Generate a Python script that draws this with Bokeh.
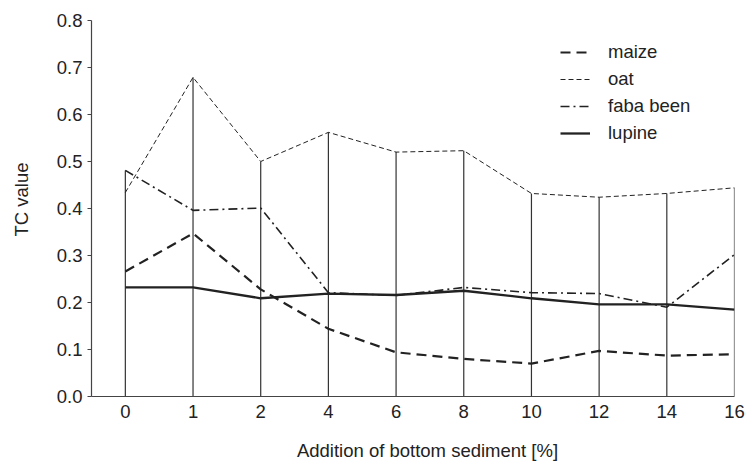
import math
from bokeh.plotting import figure
from bokeh.models import (Range1d, FixedTicker, PrintfTickFormatter, Legend, LegendItem, Label)
from bokeh.embed import file_html
from bokeh.resources import INLINE

categories = ["0", "1", "2", "4", "6", "8", "10", "12", "14", "16"]
maize = [0.266, 0.347, 0.228, 0.144, 0.094, 0.080, 0.070, 0.097, 0.087, 0.090]
oat = [0.434, 0.679, 0.500, 0.562, 0.520, 0.523, 0.432, 0.424, 0.432, 0.444]
faba_been = [0.481, 0.396, 0.401, 0.221, 0.215, 0.232, 0.221, 0.219, 0.190, 0.302]
lupine = [0.232, 0.232, 0.209, 0.219, 0.216, 0.225, 0.209, 0.196, 0.196, 0.185]
y_ticks = [0.0, 0.1, 0.2, 0.3, 0.4, 0.5, 0.6, 0.7, 0.8]
x_title = "Addition of bottom sediment [%]"
y_title = "TC value"

FONT = "Liberation Sans"
INK = "#222222"
FS = "18.5px"

idx = list(range(len(categories)))
tops = [max(a, b, c, d) for a, b, c, d in zip(maize, oat, faba_been, lupine)]

p = figure(width=756, height=463, output_backend="svg", toolbar_location=None,
           x_range=Range1d(-0.5, 9.0), y_range=Range1d(0, 0.8),
           min_border_left=91, min_border_right=22, min_border_top=20,
           min_border_bottom=67)
p.outline_line_color = None
p.xgrid.grid_line_color = None
p.ygrid.grid_line_color = None
p.background_fill_color = "white"
p.border_fill_color = "white"

# drop lines
p.segment(x0=idx, y0=[0] * len(idx), x1=idx, y1=tops, line_color="#333333", line_width=1.2)

r_maize = p.line(idx, maize, line_color=INK, line_width=2.2, line_dash="10 6")
r_oat = p.line(idx, oat, line_color=INK, line_width=1, line_dash="5 3")
r_faba = p.line(idx, faba_been, line_color=INK, line_width=1.6, line_dash="9 4 2 4")
r_lupine = p.line(idx, lupine, line_color=INK, line_width=2.3)

legend = Legend(items=[LegendItem(label="maize", renderers=[r_maize]),
                       LegendItem(label="oat", renderers=[r_oat]),
                       LegendItem(label="faba been", renderers=[r_faba]),
                       LegendItem(label="lupine", renderers=[r_lupine])],
                location=(469, 252))
legend.background_fill_alpha = 0
legend.border_line_color = None
legend.padding = 0
legend.margin = 0
legend.spacing = 5
legend.glyph_width = 30
legend.glyph_height = 22
legend.label_height = 22
legend.label_standoff = 18
legend.label_text_font = FONT
legend.label_text_font_size = FS
legend.label_text_color = INK
p.add_layout(legend)

# x axis
p.xaxis.ticker = FixedTicker(ticks=idx)
p.xaxis.major_label_overrides = {i: c for i, c in zip(idx, categories)}
p.xaxis.major_tick_out = 0
p.xaxis.major_tick_in = 0
p.xaxis.minor_tick_out = 0
p.xaxis.minor_tick_in = 0
p.xaxis.major_label_standoff = 8

# y axis
p.yaxis.ticker = FixedTicker(ticks=y_ticks)
p.yaxis.formatter = PrintfTickFormatter(format="%.1f")
p.yaxis.major_tick_out = 4
p.yaxis.major_tick_in = 0
p.yaxis.minor_tick_out = 0
p.yaxis.minor_tick_in = 0
p.yaxis.major_label_standoff = 5

for ax in (p.xaxis, p.yaxis):
    ax.axis_line_color = "#444444"
    ax.axis_line_width = 1.2
    ax.major_tick_line_color = "#444444"
    ax.major_label_text_font = FONT
    ax.major_label_text_font_size = FS
    ax.major_label_text_color = INK

xt = Label(x=427, y=450, x_units="canvas", y_units="canvas", text=x_title,
           text_align="center", text_baseline="middle",
           text_font=FONT, text_font_size=FS, text_color=INK)
p.add_layout(xt, "below")
yt = Label(x=21, y=199, x_units="canvas", y_units="canvas", text=y_title, angle=math.pi / 2,
           text_align="center", text_baseline="middle",
           text_font=FONT, text_font_size=FS, text_color=INK)
p.add_layout(yt, "left")

open("out.html", "w").write(file_html(p, INLINE))
